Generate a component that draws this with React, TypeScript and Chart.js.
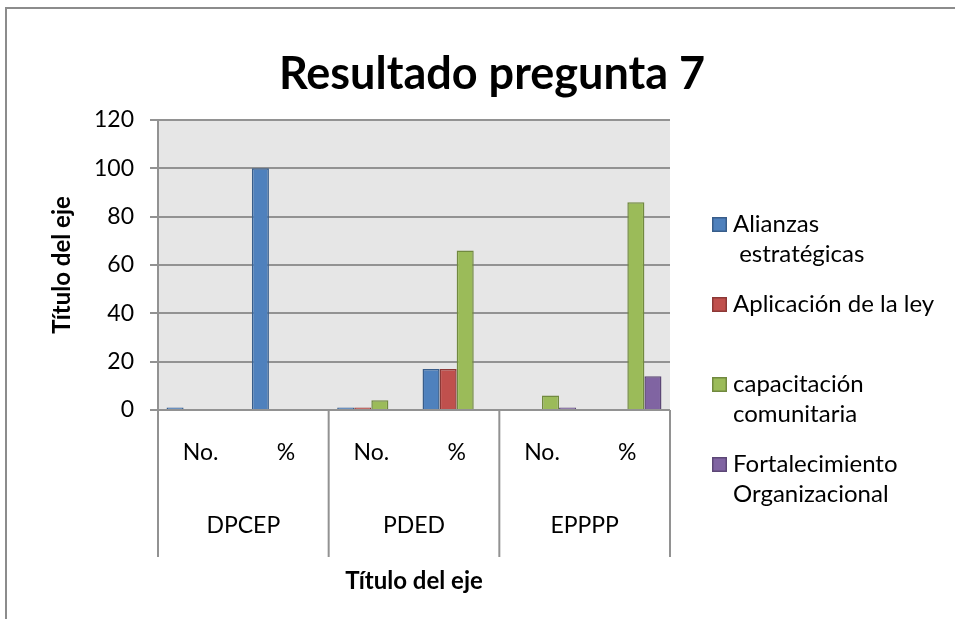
import React, { useEffect, useRef } from 'react';
import { Chart, registerables } from 'chart.js';

Chart.register(...registerables);

const titleText = 'Resultado pregunta 7';
const axisTitle = 'Título del eje';
const categories = ['No.', '%', 'No.', '%', 'No.', '%'];
const groups = ['DPCEP', 'PDED', 'EPPPP'];
const yTicks = [0, 20, 40, 60, 80, 100, 120];

const alianzas = [1, 100, 1, 17, 0, 0];
const aplicacion = [0, 0, 1, 17, 0, 0];
const capacitacion = [0, 0, 4, 66, 6, 86];
const fortalecimiento = [0, 0, 0, 0, 1, 14];

const seriesNames = ['Alianzas estratégicas', 'Aplicación de la ley', 'capacitación comunitaria', 'Fortalecimiento Organizacional'];
const legendLines = [['Alianzas', ' estratégicas'], ['Aplicación de la ley'], ['capacitación', 'comunitaria'], ['Fortalecimiento', 'Organizacional']];
const fills = ['#4F81BD', '#C0504D', '#9BBB59', '#8064A2'];
const borders = ['#385D8A', '#8C3836', '#71893F', '#5C4776'];

const FONT = 'Lato, Carlito, Calibri, "Open Sans", sans-serif';

const decor = {
  id: 'decor',
  beforeDraw(chart: any) {
    const { ctx, chartArea } = chart;
    ctx.save();
    ctx.fillStyle = '#ffffff';
    ctx.fillRect(0, 0, chart.width, chart.height);
    ctx.fillStyle = '#e6e6e6';
    ctx.fillRect(chartArea.left, chartArea.top, chartArea.right - chartArea.left, chartArea.bottom - chartArea.top);
    ctx.strokeStyle = '#8c8c8c';
    ctx.lineWidth = 2;
    ctx.beginPath();
    ctx.moveTo(6, chart.height + 5);
    ctx.lineTo(6, 8);
    ctx.lineTo(chart.width + 5, 8);
    ctx.stroke();
    ctx.restore();
  },
  afterDraw(chart: any) {
    const { ctx, chartArea, scales } = chart;
    const x = scales.x;
    ctx.save();
    const n = categories.length;
    const step = (chartArea.right - chartArea.left) / n;
    ctx.strokeStyle = '#929292';
    ctx.lineWidth = 2;
    const lineBottom = 557;
    for (let g = 0; g <= groups.length; g++) {
      const px = chartArea.left + g * step * 2;
      ctx.beginPath();
      ctx.moveTo(px, chartArea.bottom);
      ctx.lineTo(px, lineBottom);
      ctx.stroke();
    }
    ctx.beginPath();
    ctx.moveTo(chartArea.left, chartArea.bottom);
    ctx.lineTo(chartArea.right, chartArea.bottom);
    ctx.stroke();

    ctx.fillStyle = '#000';
    ctx.font = `23px ${FONT}`;
    ctx.textAlign = 'center';
    ctx.textBaseline = 'middle';
    categories.forEach((c, i) => {
      ctx.fillText(c, x.getPixelForValue(i), 453);
    });
    groups.forEach((g, i) => {
      ctx.fillText(g, chartArea.left + step * (2 * i + 1), 526);
    });

    ctx.font = `bold 45px ${FONT}`;
    ctx.fillText(titleText, 492, 74);
    ctx.font = `bold 24px ${FONT}`;
    ctx.fillText(axisTitle, 414, 581);
    ctx.save();
    ctx.translate(62, 265);
    ctx.rotate(-Math.PI / 2);
    ctx.fillText(axisTitle, 0, 0);
    ctx.restore();

    const legendY = [[224, 254], [304], [384, 414], [464, 494]];
    ctx.textAlign = 'left';
    ctx.font = `24px ${FONT}`;
    legendLines.forEach((lines, i) => {
      const y0 = legendY[i][0];
      ctx.fillStyle = fills[i];
      ctx.fillRect(712, y0 - 7, 15, 15);
      ctx.strokeStyle = borders[i];
      ctx.lineWidth = 1.5;
      ctx.strokeRect(712.75, y0 - 6.25, 13.5, 13.5);
      ctx.fillStyle = '#000';
      lines.forEach((t, j) => {
        ctx.fillText(t, 733, legendY[i][j]);
      });
    });
    ctx.restore();
  },
};

export default function App() {
  const ref = useRef<HTMLCanvasElement>(null);
  useEffect(() => {
    const series = [alianzas, aplicacion, capacitacion, fortalecimiento];
    const chart = new Chart(ref.current!, {
      type: 'bar',
      data: {
        labels: categories,
        datasets: series.map((d, i) => ({
          label: seriesNames[i],
          data: d,
          backgroundColor: fills[i],
          borderColor: borders[i],
          borderWidth: 1.5,
          borderSkipped: 'bottom',
          categoryPercentage: 0.8,
          barPercentage: 1,
        })),
      },
      options: {
        responsive: false,
        animation: false,
        layout: { padding: { left: 0, top: 120, right: 285, bottom: 0 } },
        plugins: { legend: { display: false }, title: { display: false }, tooltip: { enabled: false } },
        scales: {
          x: {
            grid: { display: false },
            border: { display: false },
            ticks: { display: false },
            afterFit: (s: any) => { s.height = 209; },
          },
          y: {
            min: 0,
            max: 120,
            afterBuildTicks: (s: any) => { s.ticks = yTicks.map((v) => ({ value: v })); },
            ticks: { color: '#000', font: { family: FONT, size: 23 }, padding: 16 },
            grid: { color: '#929292', lineWidth: 2, tickLength: 8 },
            border: { display: true, color: '#929292', width: 2 },
            afterFit: (s: any) => { s.width = 158; },
          },
        },
      },
      plugins: [decor],
    });
    return () => chart.destroy();
  }, []);
  return (
    <div style={{ position: 'fixed', left: 0, top: 0, width: 955, height: 619, background: '#fff' }}>
      <canvas ref={ref} width={955} height={619} style={{ width: 955, height: 619, display: 'block' }} />
    </div>
  );
}
